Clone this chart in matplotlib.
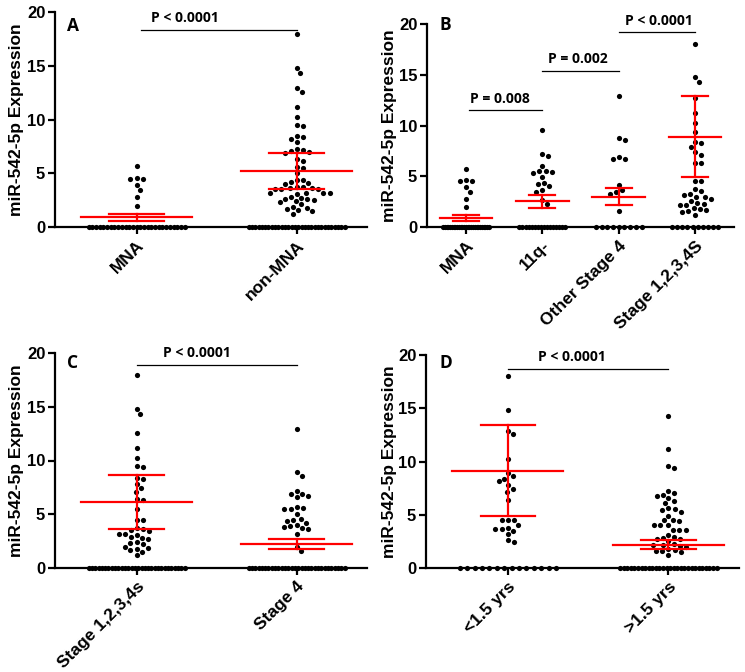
import numpy as np
import matplotlib.pyplot as plt

plt.rcParams['font.family'] = ['Liberation Sans', 'DejaVu Sans']
plt.rcParams['font.weight'] = 'bold'

# ---- data ----
mna = [5.7, 4.6, 4.5, 4.5, 3.9, 3.4, 2.8, 2.0] + [0.0] * 27
non_mna = [18.0, 14.8, 14.3, 12.9, 12.6, 11.2, 10.2, 9.5, 9.4, 8.5, 8.4, 8.2, 7.9,
           7.3, 7.2, 7.1, 7.0, 6.9, 6.3, 6.1, 5.6, 5.5, 5.0, 4.4, 4.4, 4.2, 4.1,
           4.0, 3.7, 3.7, 3.6, 3.6, 3.5, 3.5, 3.5, 3.2, 3.2, 3.2, 3.2, 3.1, 2.8,
           2.7, 2.6, 2.6, 2.5, 2.4, 2.3, 2.1, 1.9, 1.8, 1.7, 1.6, 1.5, 1.2] + [0.0] * 30
q11 = [9.6, 7.2, 7.0, 6.0, 5.5, 5.5, 5.4, 5.3, 4.9, 4.3, 4.2, 4.0, 3.6, 3.4,
       2.7, 2.3] + [0.0] * 16
other_st4 = [12.9, 8.8, 8.6, 6.9, 6.7, 6.7, 4.1, 3.6, 3.4, 3.3, 1.6] + [0.0] * 9
st1234s_b = [18.0, 14.8, 14.3, 12.7, 11.2, 10.2, 9.4, 8.4, 8.3, 7.9, 7.4, 7.1,
             6.3, 6.3, 4.5, 4.5, 3.7, 3.5, 3.3, 3.2, 3.0, 3.0, 2.8, 2.6, 2.4,
             2.3, 2.2, 2.2, 1.9, 1.8, 1.7, 1.6, 1.5, 1.2] + [0.0] * 10
st1234s_c = [18.0, 14.8, 14.3, 12.6, 11.2, 10.2, 9.5, 9.4, 8.4, 8.3, 7.8, 7.4,
             7.1, 6.4, 6.3, 5.5, 4.5, 4.5, 3.7, 3.6, 3.5, 3.4, 3.2, 3.2, 3.1,
             2.9, 2.8, 2.7, 2.4, 2.3, 2.2, 2.0, 1.9, 1.8, 1.7, 1.5, 1.2] + [0.0] * 30
stage4 = [12.9, 8.9, 8.6, 7.2, 6.9, 6.9, 6.7, 6.6, 5.7, 5.6, 5.5, 5.5, 5.0, 4.6,
          4.5, 4.4, 4.2, 4.0, 3.9, 3.8, 3.7, 3.6, 3.2, 2.0, 1.6] + [0.0] * 30
young = [18.0, 14.8, 12.9, 12.6, 10.2, 8.9, 8.6, 8.4, 8.2, 7.8, 7.4, 7.1, 6.4,
         4.5, 4.5, 4.5, 4.0, 3.8, 3.7, 3.7, 3.5, 3.2, 2.6, 2.4] + [0.0] * 14
old = [14.3, 11.2, 9.6, 9.4, 7.2, 7.0, 6.9, 6.8, 6.6, 6.3, 6.1, 5.6, 5.5, 5.4,
       5.3, 4.9, 4.5, 4.5, 4.4, 4.0, 4.0, 4.0, 3.6, 3.6, 3.6, 3.1, 2.9, 2.8,
       2.7, 2.7, 2.5, 2.3, 2.2, 2.2, 2.1, 2.0, 1.8, 1.7, 1.6, 1.6, 1.5, 1.2] + [0.0] * 28

# red centre line and error caps (centre, low, high)
stats_a = [(0.9, 0.6, 1.2), (5.2, 3.55, 6.9)]
stats_b = [(0.9, 0.55, 1.2), (2.55, 1.85, 3.2), (3.0, 2.2, 3.85), (8.9, 4.9, 12.9)]
stats_c = [(6.15, 3.6, 8.65), (2.25, 1.8, 2.7)]
stats_d = [(9.1, 4.85, 13.4), (2.2, 1.8, 2.6)]

labels_a = ['MNA', 'non-MNA']
labels_b = ['MNA', '11q-', 'Other Stage 4', 'Stage 1,2,3,4S']
labels_c = ['Stage 1,2,3,4s', 'Stage 4']
labels_d = ['<1.5 yrs', '>1.5 yrs']

# p-value brackets: (x1, x2, y, text, text_x)
pvals_a = [(0.03, 1.0, 18.3, 'P < 0.0001', 0.3)]
pvals_b = [(0.04, 1.0, 11.5, 'P = 0.008', 0.45),
           (1.0, 2.0, 15.4, 'P = 0.002', 1.47),
           (2.0, 3.0, 19.2, 'P < 0.0001', 2.52)]
pvals_c = [(0.0, 1.0, 18.9, 'P < 0.0001', 0.375)]
pvals_d = [(0.0, 1.0, 18.7, 'P < 0.0001', 0.4)]

W, H = 745, 672
fig = plt.figure(figsize=(W / 100, H / 100), dpi=100)


def swarm(vals, px_x, px_y, d=6.3, zero_span=0.6):
    vals = np.asarray(vals, dtype=float)
    offs = np.zeros(len(vals))
    zeros = np.where(vals == 0)[0]
    if len(zeros) > 1:
        offs[zeros] = np.linspace(-zero_span / 2, zero_span / 2, len(zeros))
    placed = []
    for i in np.argsort(-vals):
        if vals[i] == 0:
            continue
        y = vals[i] * px_y
        cands = [0.0]
        for xj, yj in placed:
            dy = y - yj
            if abs(dy) < d:
                dx = np.sqrt(d * d - dy * dy)
                cands += [xj + dx, xj - dx]
        cands.sort(key=abs)
        for c in cands:
            if all((c - xj) ** 2 + (y - yj) ** 2 >= d * d - 1e-6 for xj, yj in placed):
                break
        placed.append((c, y))
        offs[i] = c / px_x
    return offs


def panel(rect_px, groups, stats, labels, pvals, letter, letter_px, ylab_x):
    l, t, r, b = rect_px
    ax = fig.add_axes([l / W, 1 - b / H, (r - l) / W, (b - t) / H])
    n = len(groups)
    xlim = (-0.51, n - 1 + (0.44 if n == 2 else 0.51))
    ax.set_xlim(*xlim)
    ax.set_ylim(0, 20)
    px_x = (r - l) / (xlim[1] - xlim[0])
    px_y = (b - t) / 20.0
    for k, g in enumerate(groups):
        offs = swarm(g, px_x, px_y)
        ax.scatter(k + offs, g, s=14, color='black', zorder=3, clip_on=False,
                   linewidths=0)
        m, lo, hi = stats[k]
        ax.plot([k - 0.345, k + 0.345], [m, m], color='red', lw=1.6, zorder=4)
        ax.plot([k - 0.17, k + 0.17], [lo, lo], color='red', lw=1.6, zorder=4)
        ax.plot([k - 0.17, k + 0.17], [hi, hi], color='red', lw=1.6, zorder=4)
        ax.plot([k, k], [lo, hi], color='red', lw=1.6, zorder=4)
    for x1, x2, y, txt, tx in pvals:
        ax.plot([x1, x2], [y, y], color='black', lw=0.9, clip_on=False)
        ax.text(tx, y + 0.45, txt, ha='center', va='bottom', fontsize=10,
                fontweight='bold', family=['Open Sans', 'DejaVu Sans'],
                clip_on=False)
    for s in ['top', 'right']:
        ax.spines[s].set_visible(False)
    for s in ['left', 'bottom']:
        ax.spines[s].set_linewidth(1.6)
    ax.set_xticks(range(n))
    ax.set_xticklabels(labels, rotation=45, ha='right', rotation_mode='anchor',
                       fontsize=12.5, fontweight='bold')
    ax.set_yticks([0, 5, 10, 15, 20])
    ax.set_yticklabels(['0', '5', '10', '15', '20'], fontsize=12, fontweight='bold')
    ax.tick_params(axis='both', width=1.6, length=5, direction='out')
    ax.tick_params(axis='x', pad=3)
    ax.tick_params(axis='y', pad=2)
    fig.text(letter_px[0] / W, 1 - letter_px[1] / H, letter, ha='center',
             va='center', fontsize=12.5, fontweight='bold',
             family=['Open Sans', 'DejaVu Sans'])
    fig.text(ylab_x / W, 1 - (t + b) / 2 / H, 'miR-542-5p Expression',
             rotation=90, ha='center', va='center', fontsize=12.5,
             fontweight='bold')
    return ax


panel((55, 12, 367, 227), [mna, non_mna], stats_a, labels_a, pvals_a, 'A', (73, 26), 17)
panel((427, 24, 734, 227), [mna, q11, other_st4, st1234s_b], stats_b, labels_b,
      pvals_b, 'B', (445, 25), 389)
panel((55, 353, 367, 568), [st1234s_c, stage4], stats_c, labels_c, pvals_c, 'C',
      (73, 363), 17)
panel((426, 355, 739, 568), [young, old], stats_d, labels_d, pvals_d, 'D',
      (446, 363), 389)

fig.savefig('out.png', dpi=100)
